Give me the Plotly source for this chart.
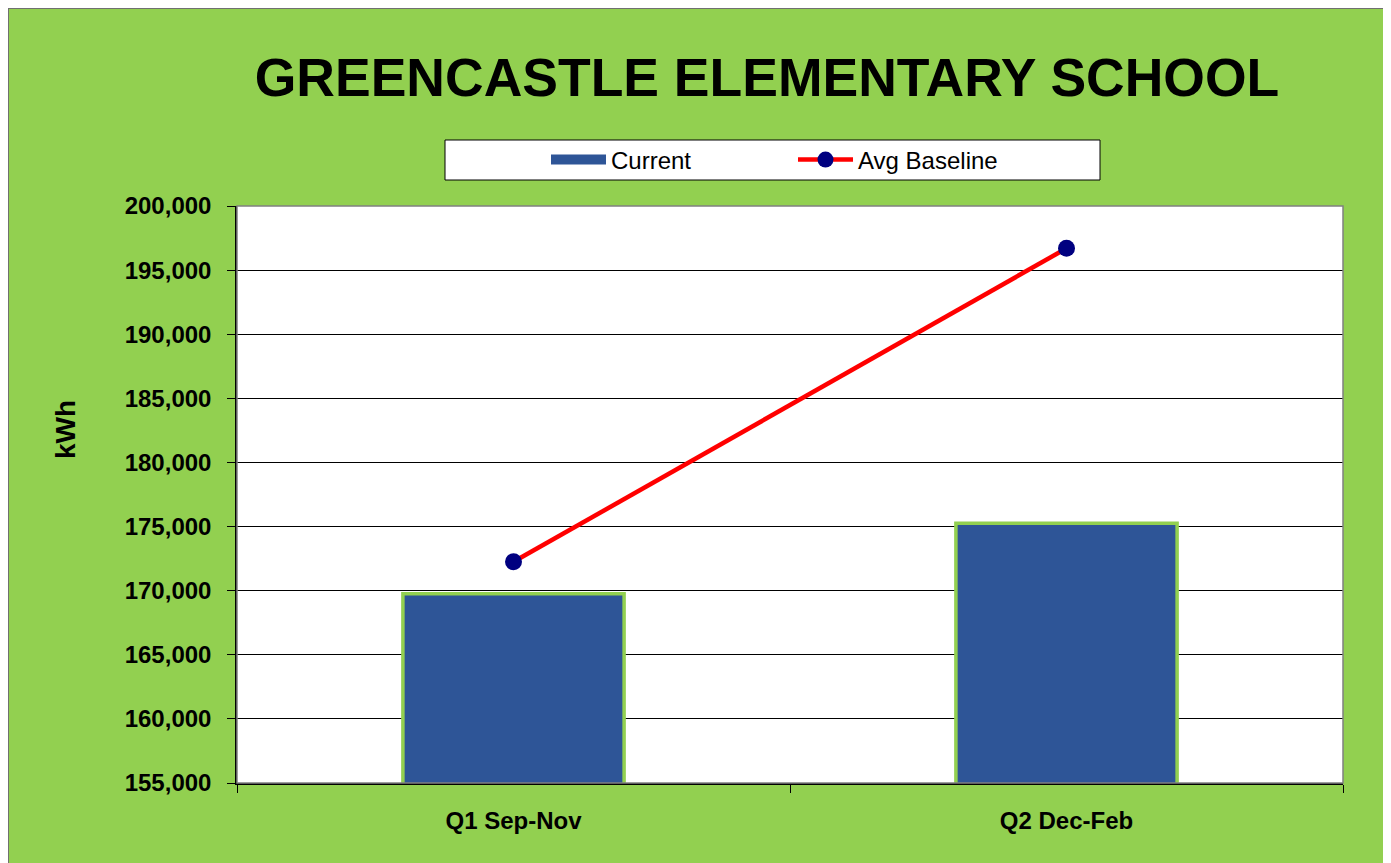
import plotly.graph_objects as go

# data
categories = ["Q1 Sep-Nov", "Q2 Dec-Feb"]
current_kwh = [169750, 175250]
avg_baseline_kwh = [172250, 196700]

# page offset of the figure (default body margin of the html page)
OFF = 8
W, H = 1380, 860
L, R, T, B = 229, 45, 198, 85
PW, PH = W - L - R, H - T - B

GREEN = "#92D050"
BLUE = "#2E5597"
FONT = "Liberation Sans, Arial, sans-serif"


def px_x(p):
    # page pixel -> paper x
    return (p - OFF - L) / PW


def px_y(p):
    # page pixel -> paper y
    return (H - B - (p - OFF)) / PH


fig = go.Figure()

fig.add_trace(go.Bar(
    x=categories,
    y=current_kwh,
    name="Current",
    width=0.4,
    marker=dict(color=BLUE, line=dict(color=GREEN, width=3.5)),
    showlegend=False,
))

# legend entry for the bars, drawn as a wide block like the original
fig.add_trace(go.Scatter(
    x=[None],
    y=[None],
    mode="lines",
    name="Current",
    line=dict(color=BLUE, width=16),
    legend="legend",
))

fig.add_trace(go.Scatter(
    x=categories,
    y=avg_baseline_kwh,
    mode="lines+markers",
    name="Avg Baseline",
    line=dict(color="#FF0000", width=4.5),
    marker=dict(color="#000080", size=17),
    legend="legend2",
))

shapes = [
    # grey frame round the chart area
    dict(type="rect", xref="paper", yref="paper", x0=px_x(8), x1=px_x(1388),
         y0=px_y(H + 30), y1=px_y(8), line=dict(color="#707070", width=2)),
    # legend box
    dict(type="rect", xref="paper", yref="paper", x0=px_x(445), x1=px_x(1100),
         y0=px_y(180), y1=px_y(140), fillcolor="white", layer="below",
         line=dict(color="black", width=1)),
    # plot-area border
    dict(type="rect", xref="paper", yref="paper", x0=0, x1=1, y0=0, y1=1,
         line=dict(color="#808080", width=1.5), layer="above"),
]

legend_common = dict(
    orientation="h",
    bgcolor="rgba(0,0,0,0)",
    font=dict(family=FONT, size=24, color="black"),
    itemwidth=55,
    yanchor="middle",
    y=px_y(160),
    xanchor="left",
)

fig.update_layout(
    width=W,
    height=H,
    margin=dict(l=L, r=R, t=T, b=B),
    paper_bgcolor=GREEN,
    plot_bgcolor="white",
    title=dict(
        text="<b>GREENCASTLE ELEMENTARY SCHOOL</b>",
        font=dict(family=FONT, size=53.5, color="black"),
        x=px_x(767), xref="paper", xanchor="center",
        y=1 - (77 - OFF) / H, yref="container", yanchor="middle",
    ),
    shapes=shapes,
    legend=dict(**legend_common, x=px_x(546)),
    legend2=dict(**legend_common, x=px_x(793)),
    showlegend=True,
    annotations=[dict(
        text="<b>kWh</b>", textangle=-90, showarrow=False,
        xref="paper", yref="paper", x=px_x(65), y=px_y(430),
        xanchor="center", yanchor="middle",
        font=dict(family=FONT, size=28, color="black"),
    )],
)

fig.update_yaxes(
    range=[155000, 200000],
    dtick=5000,
    tickformat=",d",
    showgrid=True,
    gridcolor="black",
    gridwidth=1,
    showline=True,
    linecolor="black",
    linewidth=1.5,
    ticks="outside",
    ticklen=8,
    tickcolor="black",
    ticklabelstandoff=11,
    tickfont=dict(family=FONT, size=24, color="black", weight="bold"),
    zeroline=False,
)

fig.update_xaxes(
    showgrid=False,
    showline=True,
    linecolor="black",
    linewidth=1.5,
    ticks="outside",
    ticklen=8,
    tickcolor="black",
    tickson="boundaries",
    ticklabelstandoff=15,
    tickfont=dict(family=FONT, size=24, color="black", weight="bold"),
)

fig.write_html("out.html")
